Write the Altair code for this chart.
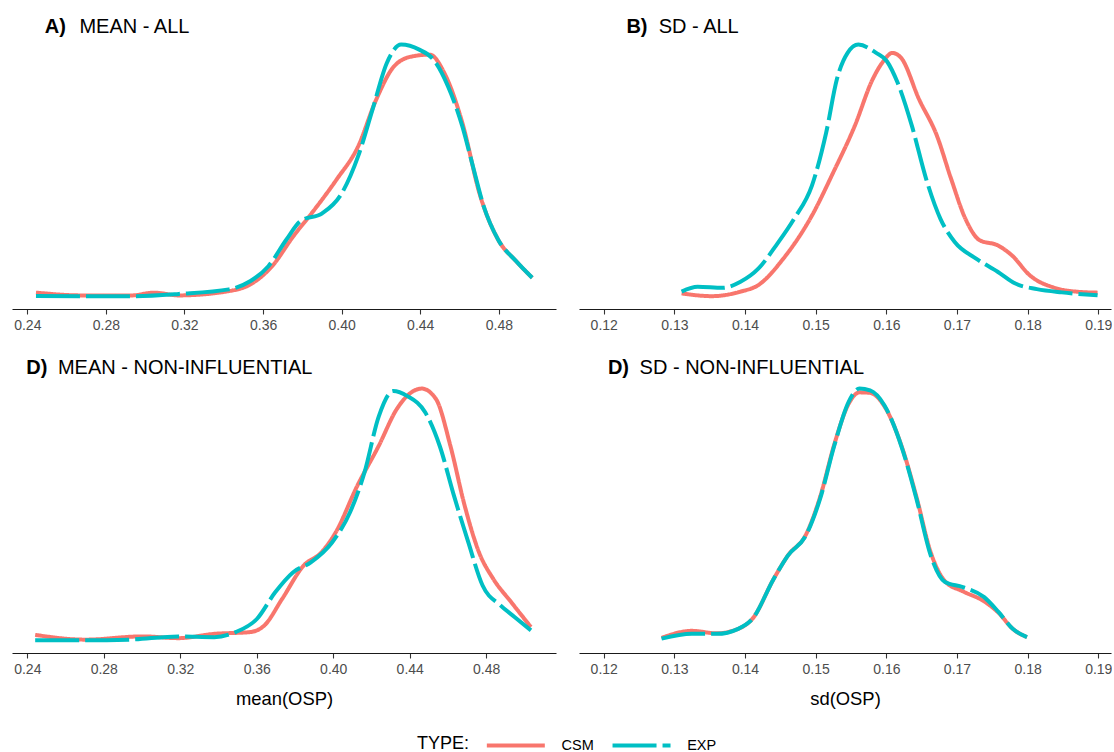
import altair as alt
import pandas as pd

FONT = "Liberation Sans"
TYPES = ["CSM", "EXP"]
COLORS = ["#F8766D", "#00BFC4"]

# ---- Panel A: MEAN - ALL (relative density) ----
a_exp_x = [0.2444, 0.2678, 0.2933, 0.3171, 0.3426, 0.3536, 0.3627, 0.3719, 0.3792, 0.3901, 0.3993, 0.4084,
           0.4157, 0.4230, 0.4303, 0.4395, 0.4468, 0.4541, 0.4614, 0.4668, 0.4723, 0.4796, 0.4888, 0.4970]
a_exp_y = [0.002, 0.001, 0.001, 0.010, 0.028, 0.061, 0.120, 0.226, 0.300, 0.330, 0.400, 0.557,
           0.742, 0.927, 1.000, 0.980, 0.940, 0.835, 0.676, 0.517, 0.358, 0.226, 0.140, 0.074]
a_csm_x = [0.2444, 0.2678, 0.2933, 0.3043, 0.3171, 0.3426, 0.3536, 0.3646, 0.3755, 0.3847, 0.3974, 0.4084,
           0.4175, 0.4267, 0.4358, 0.4449, 0.4522, 0.4614, 0.4705, 0.4796, 0.4888, 0.4970]
a_csm_y = [0.015, 0.004, 0.004, 0.015, 0.004, 0.021, 0.048, 0.120, 0.240, 0.330, 0.464, 0.596,
           0.780, 0.914, 0.953, 0.960, 0.888, 0.690, 0.400, 0.226, 0.140, 0.074]

# ---- Panel B: SD - ALL ----
b_exp_x = [0.13102, 0.13329, 0.13683, 0.13936, 0.14188, 0.14441, 0.14694, 0.14947, 0.15149, 0.15300, 0.15452,
           0.15604, 0.15856, 0.16008, 0.16159, 0.16362, 0.16564, 0.16766, 0.16968, 0.17271, 0.17575, 0.17827,
           0.18131, 0.18484, 0.18990]
b_exp_y = [0.019, 0.038, 0.034, 0.058, 0.110, 0.203, 0.308, 0.440, 0.651, 0.862, 0.967,
           1.000, 0.967, 0.934, 0.849, 0.677, 0.466, 0.308, 0.216, 0.150, 0.098, 0.051,
           0.029, 0.016, 0.005]
b_csm_x = [0.13102, 0.13531, 0.13936, 0.14188, 0.14542, 0.14947, 0.15250, 0.15553, 0.15806, 0.15958, 0.16084,
           0.16210, 0.16463, 0.16716, 0.16918, 0.17120, 0.17322, 0.17575, 0.17777, 0.18030, 0.18384, 0.18687,
           0.18990]
b_csm_y = [0.012, 0.001, 0.019, 0.045, 0.150, 0.321, 0.493, 0.677, 0.862, 0.934, 0.967,
           0.947, 0.783, 0.638, 0.466, 0.308, 0.223, 0.203, 0.163, 0.084, 0.034, 0.019,
           0.015]

# ---- Panel C: MEAN - NON-INFLUENTIAL ----
c_exp_x = [0.24412, 0.27033, 0.29279, 0.31900, 0.33772, 0.34895, 0.36018, 0.36954, 0.37890, 0.38826, 0.39949,
           0.40885, 0.41634, 0.42382, 0.43131, 0.43880, 0.44816, 0.45565, 0.46313, 0.47062, 0.47811, 0.48747,
           0.49496, 0.50339]
c_exp_y = [0.001, 0.001, 0.003, 0.016, 0.013, 0.033, 0.086, 0.190, 0.270, 0.310, 0.390,
           0.510, 0.667, 0.890, 0.990, 0.970, 0.905, 0.773, 0.575, 0.390, 0.218, 0.139,
           0.092, 0.040]
c_csm_x = [0.24412, 0.27033, 0.30028, 0.31900, 0.33772, 0.35644, 0.36393, 0.37329, 0.38451, 0.39387, 0.40136,
           0.41259, 0.42382, 0.43318, 0.44067, 0.44628, 0.45377, 0.46126, 0.46874, 0.47623, 0.48372, 0.49308,
           0.50339]
c_csm_y = [0.022, 0.003, 0.016, 0.009, 0.026, 0.033, 0.059, 0.165, 0.297, 0.350, 0.430,
           0.614, 0.773, 0.918, 0.984, 1.000, 0.958, 0.773, 0.535, 0.350, 0.244, 0.152,
           0.053]

# ---- Panel D: SD - NON-INFLUENTIAL ----
d_x = [0.12818, 0.13247, 0.13600, 0.13903, 0.14105, 0.14407, 0.14609, 0.14862, 0.15063, 0.15265, 0.15467,
       0.15619, 0.15770, 0.15972, 0.16224, 0.16426, 0.16628, 0.16830, 0.17082, 0.17385, 0.17587, 0.17789,
       0.17991]
d_exp_y = [0.007, 0.026, 0.026, 0.046, 0.086, 0.245, 0.338, 0.417, 0.563, 0.775, 0.947,
           1.000, 0.993, 0.934, 0.762, 0.563, 0.338, 0.232, 0.212, 0.172, 0.113, 0.046,
           0.013]
d_csm_y = [0.010, 0.038, 0.028, 0.046, 0.086, 0.245, 0.338, 0.420, 0.570, 0.780, 0.940,
           0.985, 0.983, 0.930, 0.765, 0.570, 0.350, 0.235, 0.195, 0.155, 0.110, 0.046,
           0.013]

letters = ["A)", "B)", "D)", "D)"]
titles = ["MEAN - ALL", "SD - ALL", "MEAN - NON-INFLUENTIAL", "SD - NON-INFLUENTIAL"]
axis_titles = ["", "", "mean(OSP)", "sd(OSP)"]
mean_ticks = [0.24, 0.28, 0.32, 0.36, 0.40, 0.44, 0.48]
sd_ticks = [0.12, 0.13, 0.14, 0.15, 0.16, 0.17, 0.18, 0.19]


def frame(csm_x, csm_y, exp_x, exp_y):
    rows = [{"x": x, "d": y, "type": "CSM"} for x, y in zip(csm_x, csm_y)]
    rows += [{"x": x, "d": y, "type": "EXP"} for x, y in zip(exp_x, exp_y)]
    return pd.DataFrame(rows)


# legend sample: a long horizontal stroke (path from -1 to 5 in units of sqrt(size)/2)
SYM = 19.33
legend = alt.Legend(
    title="TYPE:", orient="none", direction="horizontal", legendX=405, legendY=701.5,
    titleOrient="left", titleFontSize=18, titleFontWeight="normal", titleColor="black",
    titleFont=FONT, titlePadding=14.5, labelFont=FONT, labelFontSize=14.5, labelColor="black",
    labelOffset=53, columnPadding=9.7, symbolType="M-1,0L5,0", symbolSize=SYM * SYM,
    symbolStrokeWidth=4, titleBaseline="middle", titleAnchor="middle",
)


def panel(df, idx, domain, ticks, width, height, lx, tx, ty):
    xenc = alt.X(
        "x:Q",
        scale=alt.Scale(domain=domain, nice=False, zero=False),
        axis=alt.Axis(
            values=ticks, format=".2f", title=axis_titles[idx] if axis_titles[idx] else None,
            grid=False, labelOverlap=False, labelFlush=False,
        ),
    )
    lines = alt.Chart(df).mark_line(strokeWidth=4, interpolate="monotone", strokeCap="butt").encode(
        x=xenc,
        y=alt.Y("d:Q", scale=alt.Scale(domain=[-0.05, 1.05], nice=False, zero=False), axis=None),
        color=alt.Color("type:N", scale=alt.Scale(domain=TYPES, range=COLORS), legend=legend),
        strokeDash=alt.StrokeDash("type:N", scale=alt.Scale(domain=TYPES, range=[[1, 0], [44, 6]]), legend=legend),
        order=alt.Order("x:Q"),
    )
    lab = pd.DataFrame({"letter": [letters[idx]], "title": [titles[idx]]})
    letter = alt.Chart(lab).mark_text(
        align="left", baseline="alphabetic", fontSize=20, fontWeight="bold", font=FONT, color="black"
    ).encode(x=alt.value(lx), y=alt.value(ty), text="letter:N")
    title = alt.Chart(lab).mark_text(
        align="left", baseline="alphabetic", fontSize=20, font=FONT, color="black"
    ).encode(x=alt.value(tx), y=alt.value(ty), text="title:N")
    return alt.layer(lines, letter, title).properties(width=width, height=height)


pA = panel(frame(a_csm_x, a_csm_y, a_exp_x, a_exp_y), 0, [0.2322, 0.5091], mean_ticks, 544, 277, 32.7, 67.4, 1.3)
pB = panel(frame(b_csm_x, b_csm_y, b_exp_x, b_exp_y), 1, [0.1165, 0.1918], sd_ticks, 532, 277, 47.4, 79.7, 1.3)
pC = panel(frame(c_csm_x, c_csm_y, c_exp_x, c_exp_y), 2, [0.2320, 0.5165], mean_ticks, 544, 277, 14.3, 45.9, -2)
pD = panel(frame(d_x, d_csm_y, d_x, d_exp_y), 3, [0.1165, 0.1918], sd_ticks, 532, 277, 28.9, 60.6, -2)

chart = alt.concat(
    pA, pB, pC, pD, columns=2, spacing={"row": 67, "column": 23}, bounds="flush"
).resolve_scale(
    x="independent", y="independent"
).properties(
    padding={"left": 12, "top": 17, "right": 0, "bottom": 0}
).configure_view(stroke=None).configure_axis(
    domainColor="#1a1a1a", domainWidth=1.1, tickColor="#333333", tickWidth=1.1, tickSize=5,
    labelColor="#4D4D4D", labelFontSize=14, labelFont=FONT, labelPadding=4,
    titleFont=FONT, titleFontSize=18.4, titleFontWeight="normal", titleColor="black", titlePadding=13,
)

chart.save("out.html", embed_options={"renderer": "svg", "actions": False})
